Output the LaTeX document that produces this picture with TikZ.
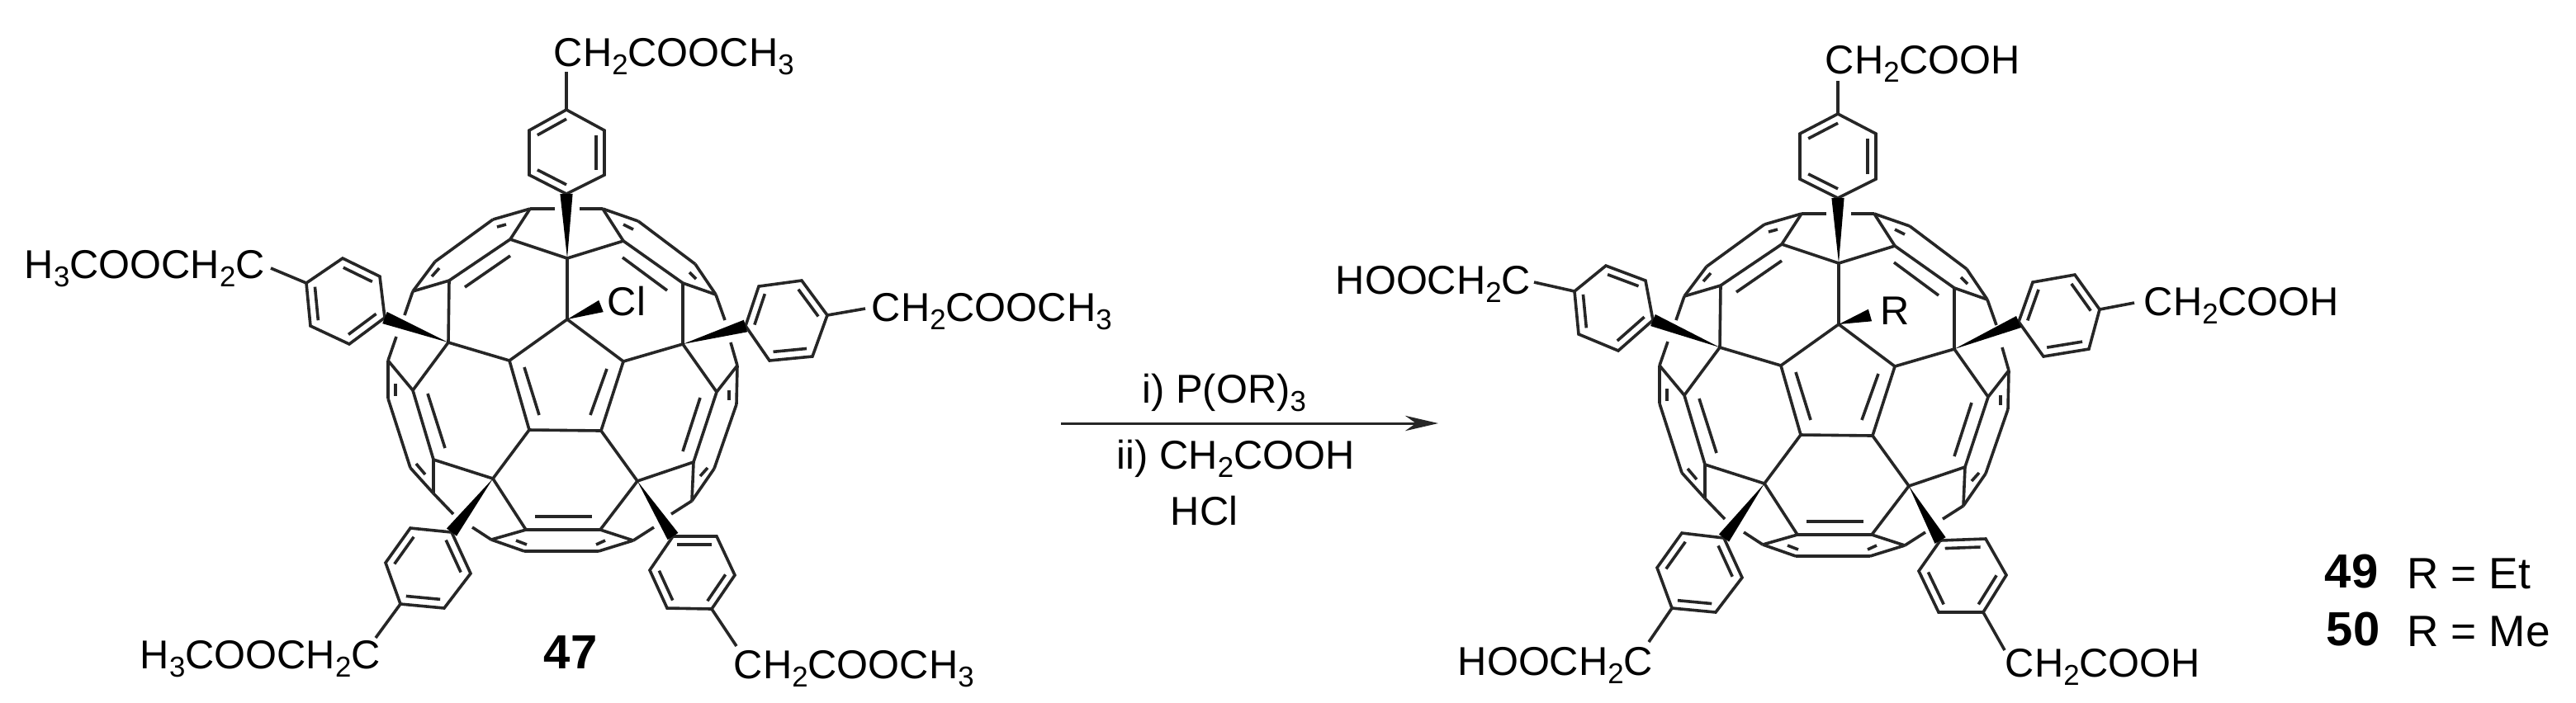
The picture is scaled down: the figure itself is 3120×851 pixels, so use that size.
\documentclass[tikz,border=0pt]{standalone}
\usepackage{fontspec}
\setmainfont{Liberation Sans}
\usetikzlibrary{arrows.meta, calc}

\tikzset{
    bond/.style={line width=0.9pt, draw=black!85},
    chem/.style={anchor=base west, inner sep=0pt, font=\fontsize{12.2}{14}\selectfont},
    tag/.style={anchor=base west, inner sep=0pt, font=\fontsize{14.5}{16}\selectfont\bfseries},
    rsub/.style={anchor=base west, inner sep=0pt, font=\fontsize{13.3}{15}\selectfont},
}

\newcommand{\chemsub}[1]{\raisebox{-2.7pt}{\fontsize{8.7}{9}\selectfont #1}}

\newcommand{\phring}[7]{
    \coordinate (#1-1) at (#2);
    \coordinate (#1-2) at (#3);
    \coordinate (#1-3) at (#4);
    \coordinate (#1-4) at (#5);
    \coordinate (#1-5) at (#6);
    \coordinate (#1-6) at (#7);
    \coordinate (#1-c) at ($(#1-1)!0.5!(#1-4)$);
    \draw[bond] (#1-1) -- (#1-2) -- (#1-3) -- (#1-4) -- (#1-5) -- (#1-6) -- cycle;
    \draw[bond] ($(#1-1)!0.22!(#1-c)$) -- ($(#1-2)!0.22!(#1-c)$);
    \draw[bond] ($(#1-3)!0.22!(#1-c)$) -- ($(#1-4)!0.22!(#1-c)$);
    \draw[bond] ($(#1-5)!0.22!(#1-c)$) -- ($(#1-6)!0.22!(#1-c)$);
}

\newcommand{\wedgebond}[2]{
    \fill[black] (#1) -- ($(#2)!1.9pt!90:(#1)$) -- ($(#2)!1.9pt!-90:(#1)$) -- cycle;
}

\newcommand{\cagecore}{
    \coordinate (pent1) at (687,387);
    \coordinate (pent2) at (755,438);
    \coordinate (pent3) at (728,522);
    \coordinate (pent4) at (641,521);
    \coordinate (pent5) at (617,437);
    \coordinate (hub1) at (687,313);
    \coordinate (hub2) at (827,417);
    \coordinate (hub3) at (772,583);
    \coordinate (hub4) at (597,580);
    \coordinate (hub5) at (543,415);
    \coordinate (mid1) at (618,290);
    \coordinate (mid2) at (755,292);
    \coordinate (mid3) at (827,343);
    \coordinate (mid4) at (868,475);
    \coordinate (mid5) at (840,560);
    \coordinate (mid6) at (727,642);
    \coordinate (mid7) at (637,642);
    \coordinate (mid8) at (525,557);
    \coordinate (mid9) at (500,473);
    \coordinate (mid10) at (544,340);
    \coordinate (rim1) at (642,253);
    \coordinate (rim2) at (730,253);
    \coordinate (rim3) at (773,268);
    \coordinate (rim4) at (842,320);
    \coordinate (rim5) at (867,357);
    \coordinate (rim6) at (893,443);
    \coordinate (rim7) at (892,490);
    \coordinate (rim8) at (865,568);
    \coordinate (rim9) at (838,607);
    \coordinate (rim10) at (767,655);
    \coordinate (rim11) at (725,668);
    \coordinate (rim12) at (635,668);
    \coordinate (rim13) at (595,654);
    \coordinate (rim14) at (525,598);
    \coordinate (rim15) at (497,567);
    \coordinate (rim16) at (470,483);
    \coordinate (rim17) at (470,437);
    \coordinate (rim18) at (500,353);
    \coordinate (rim19) at (527,317);
    \coordinate (rim20) at (597,266);
    \coordinate (gap1) at (672,253);
    \coordinate (gap2) at (702,253);
    \coordinate (gap3) at (878,388);
    \coordinate (gap4) at (885,415);
    \coordinate (gap5) at (813,623);
    \coordinate (gap6) at (792,639);
    \coordinate (gap7) at (572,639);
    \coordinate (gap8) at (549,623);
    \coordinate (gap9) at (480,408);
    \coordinate (gap10) at (490,382);
    \foreach \u/\v in {pent1/pent2, pent2/pent3, pent3/pent4, pent4/pent5, pent5/pent1,
        hub1/pent1, hub2/pent2, hub3/pent3, hub4/pent4, hub5/pent5,
        hub1/mid1, hub1/mid2, hub2/mid3, hub2/mid4, hub3/mid5, hub3/mid6, hub4/mid7, hub4/mid8, hub5/mid9, hub5/mid10,
        mid1/mid10, mid2/mid3, mid4/mid5, mid8/mid9,
        mid1/rim1, mid2/rim2, mid3/rim5, mid4/rim6, mid5/rim9, mid6/rim10, mid7/rim13, mid8/rim14, mid9/rim17, mid10/rim18,
        rim1/rim20, rim20/rim19, rim19/rim18, rim2/rim3, rim3/rim4, rim4/rim5, rim6/rim7, rim7/rim8, rim8/rim9,
        rim10/rim11, rim11/rim12, rim12/rim13, rim14/rim15, rim15/rim16, rim16/rim17,
        rim1/gap1, rim2/gap2, rim5/gap3, gap4/rim6, rim9/gap5, gap6/rim10, rim13/gap7, gap8/rim14, rim17/gap9, gap10/rim18}
        \draw[bond] (\u) -- (\v);
    \draw[bond, line width=1.2pt] (mid6) -- (mid7);
    \foreach \xa/\ya/\xb/\yb in {563/348/618/310, 754/312/808/352, 635/445/653/503, 735/447/715/503, 848/482/827/547, 518/477/539/543, 648/626/717/626,
        602/275/613/272, 755/272/767/278, 523/335/532/325, 835/330/843/338, 479/465/479/480, 883/473/883/485, 504/562/515/575, 848/577/857/567, 625/655/638/660, 722/660/733/655}
        \draw[bond] (\xa,\ya) -- (\xb,\yb);
}

\begin{document}
\begin{tikzpicture}[x=0.25pt, y=-0.25pt]
    \useasboundingbox (0,0) rectangle (3120,851);

    \begin{scope}[name prefix=a-]
        \cagecore
    \end{scope}
    \begin{scope}[shift={(1540,6)}, name prefix=b-]
        \cagecore
    \end{scope}

    \phring{atop}{686,235}{641,212}{641,158}{686,133}{732,158}{732,212}
    \phring{aleft}{466,385}{423,417}{376,395}{371,343}{415,313}{460,335}
    \phring{aright}{903,395}{919,347}{971,340}{1002,382}{984,432}{932,437}
    \phring{alow}{547,645}{570,695}{538,737}{485,732}{467,682}{497,640}
    \phring{ahigh}{815,650}{868,650}{890,697}{862,738}{808,737}{787,691}

    \phring{btop}{2226,240}{2180,217}{2180,162}{2226,138}{2272,162}{2272,217}
    \phring{bleft}{2002,388}{1960,425}{1912,405}{1907,353}{1945,322}{1993,340}
    \phring{bright}{2445,390}{2462,342}{2513,333}{2543,375}{2530,423}{2475,432}
    \phring{blow}{2088,652}{2110,700}{2078,742}{2025,737}{2007,688}{2037,646}
    \phring{bhigh}{2350,655}{2405,653}{2430,697}{2402,742}{2348,742}{2324,692}

    \wedgebond{a-hub1}{atop-1}
    \wedgebond{a-hub5}{aleft-1}
    \wedgebond{a-hub2}{aright-1}
    \wedgebond{a-hub4}{alow-1}
    \wedgebond{a-hub3}{ahigh-1}
    \wedgebond{b-hub1}{btop-1}
    \wedgebond{b-hub5}{bleft-1}
    \wedgebond{b-hub2}{bright-1}
    \wedgebond{b-hub4}{blow-1}
    \wedgebond{b-hub3}{bhigh-1}

    \coordinate (a-cl-tip) at (728,371);
    \coordinate (b-r-tip) at (2265,382);
    \wedgebond{a-pent1}{a-cl-tip}
    \wedgebond{b-pent1}{b-r-tip}
    \node[chem] (a-cl) at (735,382) {Cl};
    \node[chem] (b-r) at (2277,393) {R};

    \coordinate (atop-tail) at (686,87);
    \coordinate (aleft-tail) at (328,325);
    \coordinate (aright-tail) at (1048,374);
    \coordinate (alow-tail) at (455,773);
    \coordinate (ahigh-tail) at (892,783);
    \coordinate (btop-tail) at (2226,98);
    \coordinate (bleft-tail) at (1858,342);
    \coordinate (bright-tail) at (2585,367);
    \coordinate (blow-tail) at (1997,778);
    \coordinate (bhigh-tail) at (2428,788);
    \foreach \ring in {atop, aleft, aright, alow, ahigh, btop, bleft, bright, blow, bhigh}
        \draw[bond] (\ring-4) -- (\ring-tail);

    \node[chem] (atop-text) at (670,80) {CH\chemsub{2}COOCH\chemsub{3}};
    \node[chem] (aleft-text) at (29,337) {H\chemsub{3}COOCH\chemsub{2}C};
    \node[chem] (aright-text) at (1055,389) {CH\chemsub{2}COOCH\chemsub{3}};
    \node[chem] (alow-text) at (169,810) {H\chemsub{3}COOCH\chemsub{2}C};
    \node[chem] (ahigh-text) at (888,822) {CH\chemsub{2}COOCH\chemsub{3}};
    \node[tag] (a-tag) at (658,810) {47};

    \node[chem] (btop-text) at (2210,89) {CH\chemsub{2}COOH};
    \node[chem] (bleft-text) at (1617,356) {HOOCH\chemsub{2}C};
    \node[chem] (bright-text) at (2596,382) {CH\chemsub{2}COOH};
    \node[chem] (blow-text) at (1765,818) {HOOCH\chemsub{2}C};
    \node[chem] (bhigh-text) at (2428,820) {CH\chemsub{2}COOH};

    \coordinate (arrow-start) at (1285,513);
    \coordinate (arrow-end) at (1742,513);
    \draw[line width=0.75pt, draw=black!85, -{Stealth[length=10pt, width=4.6pt]}] (arrow-start) -- (arrow-end);
    \node[chem] (step-one) at (1383,488) {i) P(OR)\chemsub{3}};
    \node[chem] (step-two) at (1352,568) {ii) CH\chemsub{2}COOH};
    \node[chem] (step-acid) at (1417,636) {HCl};

    \node[tag] (tag-et) at (2815,712) {49};
    \node[rsub] (r-et) at (2915,713) {R = Et};
    \node[tag] (tag-me) at (2817,782) {50};
    \node[rsub] (r-me) at (2915,783) {R = Me};
\end{tikzpicture}
\end{document}
